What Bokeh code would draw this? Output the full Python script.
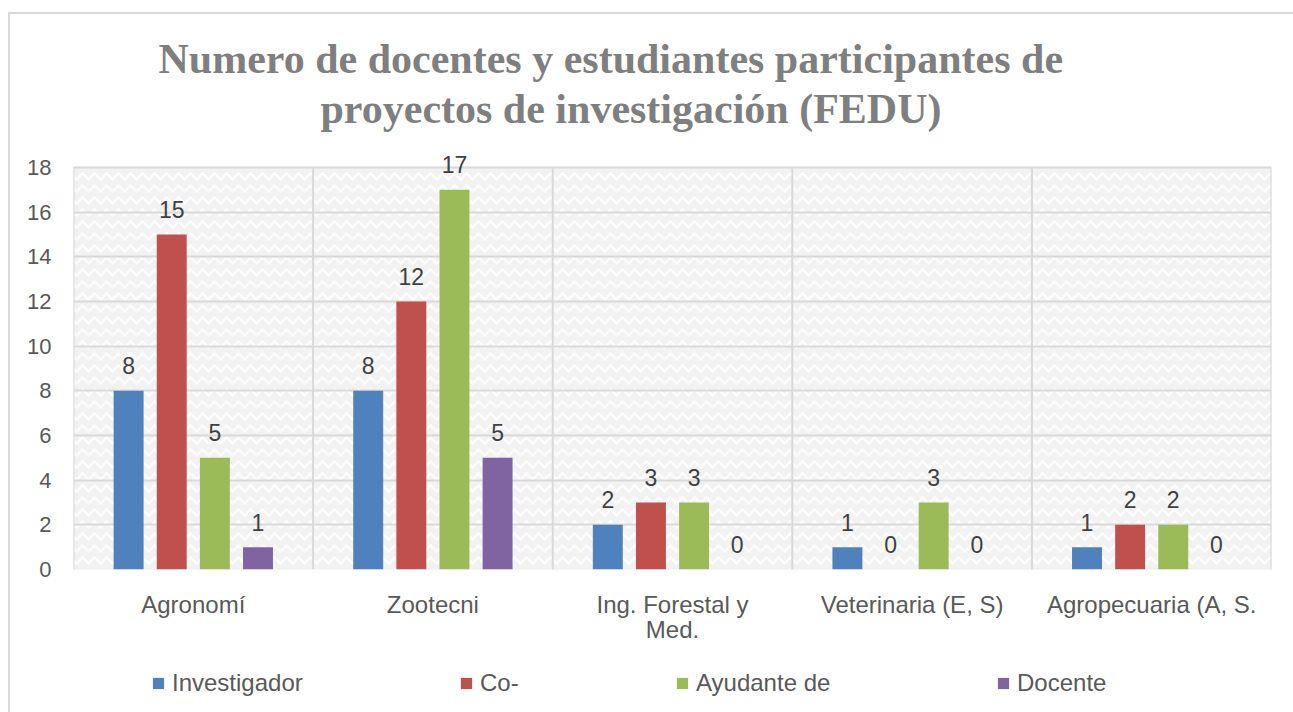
from bokeh.plotting import figure
from bokeh.layouts import column
from bokeh.models import (ColumnDataSource, Range1d, FixedTicker, Title, Legend,
                          LegendItem, BoxAnnotation)
from bokeh.transform import dodge
from bokeh.core.properties import value
from bokeh.embed import file_html
from bokeh.resources import INLINE

# ---- data ----
categories = ["Agronomí", "Zootecni", "Ing. Forestal y\nMed.", "Veterinaria (E, S)", "Agropecuaria (A, S."]
series = ["Investigador", "Co-", "Ayudante de", "Docente"]
investigador = [8, 8, 2, 1, 1]
co = [15, 12, 3, 0, 2]
ayudante = [5, 17, 3, 3, 2]
docente = [1, 5, 0, 0, 0]
y_ticks = [0, 2, 4, 6, 8, 10, 12, 14, 16, 18]
y_max = 18
title_lines = ["Numero de docentes y estudiantes participantes de",
               "proyectos de investigación (FEDU)"]

colors = ["#4F81BD", "#C0504D", "#9BBB59", "#8064A2"]
offsets = [-0.27, -0.09, 0.09, 0.27]
legend_x = [78, 386, 602, 923]
values = [investigador, co, ayudante, docente]

FONT = "Liberation Sans"
n = len(categories)
centers = [i + 0.5 for i in range(n)]
bounds = list(range(n + 1))

# frame: 402 px for 0..18, plus 24 px headroom above so top labels are not clipped
px_per_unit = 402 / y_max
head = 24
p = figure(width=1283, height=641, output_backend="svg", toolbar_location=None,
           x_range=Range1d(0, n), y_range=Range1d(0, y_max + head / px_per_unit),
           min_border_left=63, min_border_right=20, min_border_top=129, min_border_bottom=86,
           frame_width=1198, frame_height=402 + head)
p.background_fill_color = "white"
p.border_fill_color = "white"
p.outline_line_color = None

# textured plot area with border
p.add_layout(BoxAnnotation(left=0, right=n, bottom=0, top=y_max, fill_color="#f2f2f2", fill_alpha=1,
                           line_color="#d9d9d9", line_width=2, hatch_pattern="horizontal_wave",
                           hatch_color="#fcfcfc", hatch_scale=12, hatch_weight=2.5, level="image"))

# grids
p.ygrid.ticker = FixedTicker(ticks=y_ticks)
p.ygrid.grid_line_color = "#d9d9d9"
p.ygrid.grid_line_width = 2
p.xgrid.visible = False
p.segment(x0=bounds, y0=[0] * len(bounds), x1=bounds, y1=[y_max] * len(bounds),
          line_color="#d9d9d9", line_width=2)

# axes
p.yaxis.ticker = FixedTicker(ticks=y_ticks)
p.yaxis.axis_line_color = None
p.yaxis.major_tick_line_color = None
p.yaxis.minor_tick_line_color = None
p.yaxis.major_label_standoff = 16
p.yaxis.major_label_text_font = FONT
p.yaxis.major_label_text_font_size = "22px"
p.yaxis.major_label_text_color = "#595959"

p.xaxis.ticker = FixedTicker(ticks=centers)
p.xaxis.major_label_overrides = {c: lab for c, lab in zip(centers, categories)}
p.xaxis.axis_line_color = None
p.xaxis.major_tick_line_color = None
p.xaxis.minor_tick_line_color = None
p.xaxis.major_label_standoff = 15
p.xaxis.major_label_text_font = FONT
p.xaxis.major_label_text_font_size = "24px"
p.xaxis.major_label_text_color = "#595959"
p.xaxis.major_label_text_line_height = 0.95

# legend figure (frame is aligned with the main figure's frame)
lg = figure(width=1283, height=57, output_backend="svg", toolbar_location=None,
            x_range=Range1d(0, 1), y_range=Range1d(0, 1), x_axis_type=None, y_axis_type=None,
            min_border=0)
lg.outline_line_color = None
lg.grid.visible = False
lg.background_fill_color = "white"
lg.border_fill_color = "white"

for name, vals, col, off, lx in zip(series, values, colors, offsets, legend_x):
    src = ColumnDataSource(dict(x=centers, value=vals, label=[str(v) for v in vals]))
    p.vbar(x=dodge("x", off), top="value", bottom=0, width=0.125, source=src,
           fill_color=col, line_color=None)
    p.text(x=dodge("x", off), y="value", text="label", source=src,
           text_align="center", text_baseline="alphabetic", y_offset=-25,
           text_font=value(FONT), text_font_size="23px", text_color="#404040")
    # zero-height swatch renderer, only used for the legend's colour square
    rl = lg.vbar(x=[0.5], top=[0], bottom=0, width=0.01, fill_color=col, line_color=None)
    lgd = Legend(items=[LegendItem(label=name, renderers=[rl])], orientation="horizontal",
                 location=(lx, 15), glyph_width=14, glyph_height=14, label_standoff=7,
                 label_text_font=FONT, label_text_font_size="24px", label_text_color="#595959",
                 border_line_color=None, background_fill_alpha=0, padding=0, margin=0)
    lg.add_layout(lgd, "center")

# titles (first added is closest to the frame)
p.add_layout(Title(text=title_lines[1], align="left", offset=247, standoff=24,
                   text_font="Liberation Serif", text_font_size="42px",
                   text_font_style="bold", text_color="#7f7f7f"), "above")
p.add_layout(Title(text=title_lines[0], align="left", offset=85, standoff=-21,
                   text_font="Liberation Serif", text_font_size="42px",
                   text_font_style="bold", text_color="#7f7f7f"), "above")

layout = column(p, lg, spacing=0, margin=(12, 0, 0, 8),
                styles={"border-left": "2px solid #d9d9d9", "border-top": "2px solid #d9d9d9",
                        "background-color": "white"})

open("out.html", "w").write(file_html(layout, INLINE))
